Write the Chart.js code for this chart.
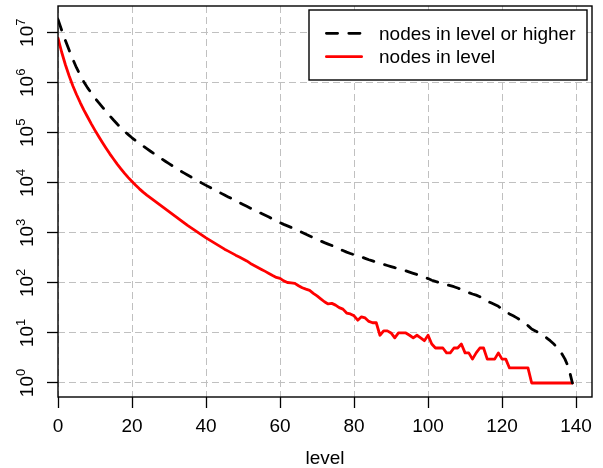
<!DOCTYPE html>
<html><head><meta charset="utf-8">
<script src="https://cdn.jsdelivr.net/npm/chart.js@4.4.1/dist/chart.umd.min.js"></script>
<style>html,body{margin:0;padding:0;background:#fff;} #wrap{width:603px;height:468px;}</style>
</head><body><div id="wrap"><canvas id="c" width="603" height="468"></canvas></div>
<script>
const levels = Array.from({length: 140}, (_, i) => i);

const nodesInLevel = [
  7762000, 4074000, 2291000, 1380000, 871000, 582000, 403000, 285000, 207000, 151000,
  112000, 84100, 63800, 49000, 38000, 29900, 23700, 19100, 15500, 12700,
  10600, 8910, 7590, 6530, 5690, 5010, 4420, 3890, 3430, 3020,
  2660, 2340, 2070, 1820, 1600, 1410, 1260, 1120, 1000, 891,
  794, 716, 646, 582, 525, 473, 432, 394, 359, 331,
  302, 275, 245, 224, 204, 186, 170, 155, 141, 129,
  123, 110, 102, 100, 98, 88, 80, 75, 71, 62,
  55, 48, 42, 38, 39, 36, 32, 30, 25, 24,
  22, 18, 21, 20, 17, 16, 16, 9, 11, 11,
  10, 8, 10, 10, 10, 9, 8, 9, 8, 7,
  9, 6, 5, 5, 5, 4, 4, 5, 5, 6,
  4, 4, 3, 4, 5, 5, 3, 3, 3, 4,
  3, 3, 2, 2, 2, 2, 2, 2, 1, 1,
  1, 1, 1, 1, 1, 1, 1, 1, 1, 1
];

const nodesInLevelOrHigher = [
  18500000, 11200000, 7000000, 4500000, 2950000, 2000000, 1420000, 1040000, 790000, 625000,
  495000, 400000, 327000, 266000, 218000, 180000, 150000, 126000, 107000, 92000,
  79500, 69600, 61300, 54400, 48200, 42800, 38100, 33900, 30200, 27000,
  24200, 21700, 19500, 17500, 15800, 14300, 13000, 11800, 10700, 9750,
  8900, 8150, 7450, 6800, 6230, 5700, 5230, 4800, 4400, 4030,
  3700, 3400, 3120, 2870, 2640, 2440, 2250, 2080, 1880, 1730,
  1600, 1480, 1380, 1285, 1195, 1100, 1015, 940, 870, 805,
  742, 687, 639, 597, 559, 515, 475, 444, 412, 388,
  366, 348, 330, 310, 291, 275, 259, 243, 234, 223,
  212, 202, 194, 184, 174, 164, 155, 147, 138, 130,
  122, 113, 107, 102, 97, 92, 88, 84, 79, 74,
  68, 64, 60, 57, 53, 48, 43, 40, 37, 34,
  30, 27, 24, 22, 20, 18, 16, 14, 12, 11,
  10, 9, 8, 7, 6, 5, 4, 3, 2, 1
];

const xTicks = [0, 20, 40, 60, 80, 100, 120, 140];
const yTicks = [1, 10, 100, 1000, 10000, 100000, 1000000, 10000000];
const yExponents = ['0', '1', '2', '3', '4', '5', '6', '7'];
const seriesLabels = ['nodes in level or higher', 'nodes in level'];
const xTitle = 'level';

const FONT = "'Liberation Sans', Arial, Helvetica, sans-serif";
const FS = 19;
const FS_SUP = 13;

const boxPlugin = {
  id: 'boxAndLabels',
  afterDraw(chart) {
    const ctx = chart.ctx;
    const a = chart.chartArea;
    ctx.save();
    ctx.strokeStyle = '#000';
    ctx.lineWidth = 1.4;
    ctx.setLineDash([]);
    ctx.strokeRect(a.left, a.top, a.right - a.left, a.bottom - a.top);

    const ys = chart.scales.y;
    ctx.fillStyle = '#000';
    ctx.textBaseline = 'alphabetic';
    ctx.textAlign = 'left';
    yTicks.forEach((v, i) => {
      const py = ys.getPixelForValue(v);
      ctx.font = FS + 'px ' + FONT;
      const w1 = ctx.measureText('10').width;
      ctx.font = FS_SUP + 'px ' + FONT;
      const w2 = ctx.measureText(yExponents[i]).width;
      const W = w1 + w2;
      ctx.save();
      ctx.translate(33.3, py);
      ctx.rotate(-Math.PI / 2);
      ctx.font = FS + 'px ' + FONT;
      ctx.fillText('10', -W / 2, 0);
      ctx.font = FS_SUP + 'px ' + FONT;
      ctx.fillText(yExponents[i], -W / 2 + w1, -8.3);
      ctx.restore();
    });

    const lx = 309, ly = 10, lw = 278, lh = 70;
    ctx.fillStyle = '#fff';
    ctx.fillRect(lx, ly, lw, lh);
    ctx.strokeStyle = '#000';
    ctx.lineWidth = 1.4;
    ctx.strokeRect(lx, ly, lw, lh);
    const rows = [33.3, 56.7];
    chart.data.datasets.forEach((ds, i) => {
      const y = rows[i];
      ctx.save();
      ctx.strokeStyle = ds.borderColor;
      ctx.lineWidth = ds.borderWidth;
      ctx.lineCap = ds.borderCapStyle || 'butt';
      ctx.setLineDash(ds.borderDash || []);
      ctx.beginPath();
      ctx.moveTo(326.4, y);
      ctx.lineTo(361.6, y);
      ctx.stroke();
      ctx.restore();
      ctx.fillStyle = '#000';
      ctx.font = FS + 'px ' + FONT;
      ctx.textBaseline = 'middle';
      ctx.textAlign = 'left';
      ctx.fillText(ds.label, 379, y + 1);
    });
    ctx.restore();
  }
};

new Chart(document.getElementById('c'), {
  type: 'line',
  data: {
    datasets: [
      {
        label: seriesLabels[0],
        data: levels.map((l, i) => ({x: l, y: nodesInLevelOrHigher[i]})),
        borderColor: '#000000',
        borderWidth: 2.8,
        borderDash: [11.2, 11.2],
        borderCapStyle: 'round',
        borderJoinStyle: 'round',
        pointRadius: 0,
        tension: 0,
        fill: false
      },
      {
        label: seriesLabels[1],
        data: levels.map((l, i) => ({x: l, y: nodesInLevel[i]})),
        borderColor: '#ff0000',
        borderWidth: 2.8,
        borderCapStyle: 'round',
        borderJoinStyle: 'round',
        pointRadius: 0,
        tension: 0,
        fill: false
      }
    ]
  },
  options: {
    responsive: false,
    animation: false,
    devicePixelRatio: 1,
    layout: {padding: {top: 6, right: 11, left: 0, bottom: 0}},
    plugins: {legend: {display: false}, tooltip: {enabled: false}},
    scales: {
      x: {
        type: 'linear',
        min: 0,
        max: 144.3,
        afterBuildTicks: (s) => { s.ticks = xTicks.map(v => ({value: v})); },
        afterFit: (s) => { s.height = 71; },
        ticks: {
          font: {family: FONT, size: FS},
          color: '#000',
          padding: 7,
          maxRotation: 0,
          autoSkip: false
        },
        grid: {
          color: '#c0c0c0',
          lineWidth: 1,
          drawTicks: true,
          tickLength: 11,
          tickColor: '#000',
          tickWidth: 1.3,
          tickBorderDash: []
        },
        border: {display: false, dash: [7, 4]},
        title: {
          display: true,
          text: xTitle,
          font: {family: FONT, size: FS},
          color: '#000',
          padding: {top: 0, bottom: -2}
        }
      },
      y: {
        type: 'logarithmic',
        min: 0.525,
        max: 3.42e7,
        afterBuildTicks: (s) => { s.ticks = yTicks.map(v => ({value: v})); },
        afterFit: (s) => { s.width = 58; },
        ticks: {display: false},
        grid: {
          color: '#c0c0c0',
          lineWidth: 1,
          drawTicks: true,
          tickLength: 11,
          tickColor: '#000',
          tickWidth: 1.3,
          tickBorderDash: []
        },
        border: {display: false, dash: [7, 4]}
      }
    }
  },
  plugins: [boxPlugin]
});
</script>
</body></html>
